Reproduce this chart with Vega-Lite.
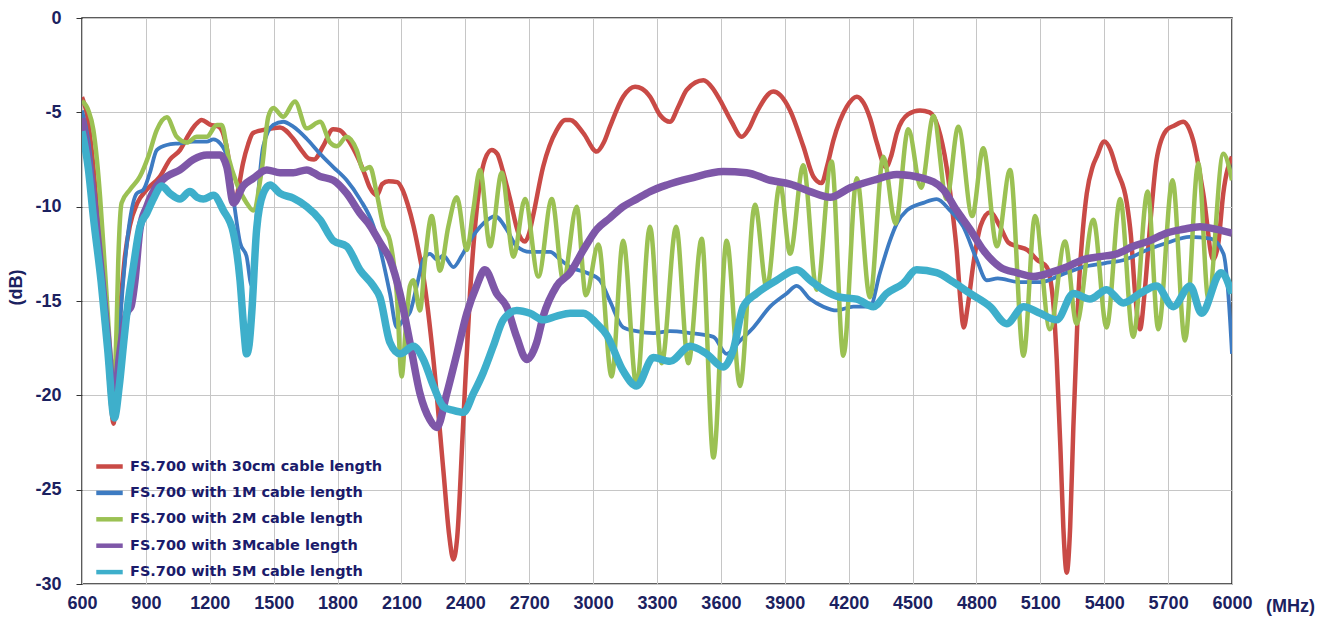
{
  "$schema": "https://vega.github.io/schema/vega-lite/v6.json",
  "width": 1150,
  "height": 566,
  "autosize": {"type": "none"},
  "padding": {"left": 82, "top": 18, "right": 102, "bottom": 38},
  "background": "white",
  "config": {
    "view": {"stroke": "#262626", "strokeWidth": 1.5},
    "axis": {
      "labelFont": "Liberation Sans", "labelFontSize": 18, "labelFontWeight": "bold", "labelColor": "#1b2160",
      "titleFont": "Liberation Sans", "titleFontSize": 18, "titleFontWeight": "bold", "titleColor": "#1b2160",
      "gridColor": "#c6c6c6", "gridWidth": 1, "domain": false
    },
    "legend": {
      "orient": "none", "legendX": 12, "legendY": 433, "padding": 0, "rowPadding": 1.4,
      "labelFont": "DejaVu Sans", "labelFontSize": 14.5, "labelFontWeight": "bold", "labelColor": "#1b1b6b",
      "labelOffset": 5, "labelLimit": 400, "symbolType": "stroke", "symbolSize": 700, "symbolStrokeWidth": 4.5
    }
  },
  "datasets": {
    "r": [{"f":600,"d":-4.2},{"f":625,"d":-5.2},{"f":650,"d":-7.5},{"f":680,"d":-11.5},{"f":710,"d":-16},{"f":735,"d":-20.3},{"f":748,"d":-21.5},{"f":762,"d":-19.5},{"f":778,"d":-15.8},{"f":800,"d":-12.8},{"f":825,"d":-11.0},{"f":860,"d":-9.8},{"f":904,"d":-9.1},{"f":966,"d":-8.4},{"f":1013,"d":-7.5},{"f":1060,"d":-7.0},{"f":1100,"d":-6.2},{"f":1130,"d":-5.7},{"f":1162,"d":-5.4},{"f":1201,"d":-5.65},{"f":1240,"d":-5.75},{"f":1265,"d":-6.2},{"f":1285,"d":-7.2},{"f":1303,"d":-9.0},{"f":1318,"d":-9.8},{"f":1335,"d":-9.0},{"f":1356,"d":-7.7},{"f":1380,"d":-6.7},{"f":1403,"d":-6.1},{"f":1467,"d":-5.9},{"f":1530,"d":-5.8},{"f":1592,"d":-6.4},{"f":1630,"d":-7.0},{"f":1665,"d":-7.45},{"f":1690,"d":-7.5},{"f":1732,"d":-6.8},{"f":1779,"d":-5.9},{"f":1810,"d":-5.95},{"f":1840,"d":-6.3},{"f":1873,"d":-6.9},{"f":1920,"d":-8.05},{"f":1952,"d":-9.0},{"f":1985,"d":-9.4},{"f":2010,"d":-8.8},{"f":2040,"d":-8.65},{"f":2080,"d":-8.7},{"f":2105,"d":-9.1},{"f":2130,"d":-9.9},{"f":2156,"d":-11.0},{"f":2180,"d":-12.3},{"f":2203,"d":-13.7},{"f":2250,"d":-18.1},{"f":2297,"d":-24.0},{"f":2325,"d":-27.5},{"f":2344,"d":-28.7},{"f":2362,"d":-27.5},{"f":2389,"d":-21.7},{"f":2422,"d":-14.6},{"f":2453,"d":-10.2},{"f":2492,"d":-7.5},{"f":2524,"d":-7.0},{"f":2550,"d":-7.2},{"f":2571,"d":-7.9},{"f":2610,"d":-9.6},{"f":2649,"d":-11.4},{"f":2680,"d":-11.85},{"f":2700,"d":-11.4},{"f":2718,"d":-10.5},{"f":2765,"d":-7.9},{"f":2829,"d":-5.94},{"f":2870,"d":-5.4},{"f":2892,"d":-5.4},{"f":2954,"d":-6.1},{"f":3017,"d":-7.08},{"f":3050,"d":-6.6},{"f":3079,"d":-5.76},{"f":3141,"d":-4.17},{"f":3197,"d":-3.64},{"f":3230,"d":-3.75},{"f":3267,"d":-4.17},{"f":3314,"d":-5.14},{"f":3361,"d":-5.5},{"f":3400,"d":-4.7},{"f":3440,"d":-3.8},{"f":3518,"d":-3.3},{"f":3560,"d":-3.7},{"f":3596,"d":-4.35},{"f":3650,"d":-5.5},{"f":3698,"d":-6.3},{"f":3730,"d":-5.9},{"f":3768,"d":-5.0},{"f":3846,"d":-3.9},{"f":3880,"d":-4.1},{"f":3925,"d":-4.9},{"f":3987,"d":-6.8},{"f":4034,"d":-8.4},{"f":4073,"d":-8.75},{"f":4100,"d":-7.8},{"f":4128,"d":-6.5},{"f":4191,"d":-4.7},{"f":4238,"d":-4.17},{"f":4270,"d":-4.5},{"f":4300,"d":-5.3},{"f":4332,"d":-6.6},{"f":4375,"d":-7.9},{"f":4400,"d":-7.3},{"f":4426,"d":-6.1},{"f":4480,"d":-5.1},{"f":4535,"d":-4.9},{"f":4580,"d":-5.0},{"f":4620,"d":-5.8},{"f":4660,"d":-7.9},{"f":4690,"d":-10.5},{"f":4707,"d":-12.3},{"f":4725,"d":-15.0},{"f":4740,"d":-16.4},{"f":4760,"d":-15.2},{"f":4786,"d":-13.0},{"f":4820,"d":-11.0},{"f":4864,"d":-10.3},{"f":4911,"d":-11.06},{"f":4950,"d":-11.9},{"f":4989,"d":-12.1},{"f":5040,"d":-12.3},{"f":5083,"d":-12.8},{"f":5130,"d":-13.2},{"f":5160,"d":-15.0},{"f":5177,"d":-18.1},{"f":5195,"d":-23.0},{"f":5208,"d":-27.0},{"f":5224,"d":-29.4},{"f":5240,"d":-27.0},{"f":5255,"d":-21.7},{"f":5279,"d":-14.6},{"f":5300,"d":-11.2},{"f":5318,"d":-9.3},{"f":5345,"d":-7.9},{"f":5365,"d":-7.35},{"f":5400,"d":-6.55},{"f":5430,"d":-7.0},{"f":5459,"d":-8.05},{"f":5506,"d":-9.8},{"f":5525,"d":-11.5},{"f":5545,"d":-14.6},{"f":5568,"d":-16.5},{"f":5590,"d":-14.5},{"f":5615,"d":-11.06},{"f":5646,"d":-7.5},{"f":5693,"d":-5.94},{"f":5730,"d":-5.7},{"f":5771,"d":-5.5},{"f":5800,"d":-5.9},{"f":5818,"d":-6.5},{"f":5865,"d":-9.3},{"f":5912,"d":-12.8},{"f":5935,"d":-12.0},{"f":5959,"d":-9.3},{"f":6000,"d":-7.35}],
    "b": [{"f":600,"d":-4.9},{"f":630,"d":-6.5},{"f":660,"d":-9.5},{"f":690,"d":-13},{"f":720,"d":-17},{"f":748,"d":-20.9},{"f":770,"d":-17.5},{"f":794,"d":-13.9},{"f":825,"d":-10.7},{"f":857,"d":-9.3},{"f":888,"d":-9.1},{"f":919,"d":-8.2},{"f":951,"d":-7.0},{"f":998,"d":-6.73},{"f":1060,"d":-6.64},{"f":1123,"d":-6.55},{"f":1186,"d":-6.55},{"f":1217,"d":-6.43},{"f":1248,"d":-6.64},{"f":1280,"d":-7.35},{"f":1311,"d":-9.6},{"f":1342,"d":-11.9},{"f":1373,"d":-12.65},{"f":1397,"d":-14.2},{"f":1420,"d":-10.35},{"f":1451,"d":-6.8},{"f":1498,"d":-5.67},{"f":1545,"d":-5.5},{"f":1592,"d":-5.76},{"f":1655,"d":-6.4},{"f":1718,"d":-7.2},{"f":1780,"d":-7.9},{"f":1843,"d":-8.6},{"f":1905,"d":-9.6},{"f":1968,"d":-11.0},{"f":1999,"d":-12.2},{"f":2046,"d":-14.6},{"f":2078,"d":-16.4},{"f":2109,"d":-16.0},{"f":2140,"d":-15.6},{"f":2172,"d":-14.2},{"f":2203,"d":-12.8},{"f":2234,"d":-12.5},{"f":2266,"d":-12.8},{"f":2297,"d":-12.6},{"f":2344,"d":-13.2},{"f":2383,"d":-12.6},{"f":2422,"d":-11.8},{"f":2484,"d":-10.9},{"f":2539,"d":-10.5},{"f":2594,"d":-11.2},{"f":2641,"d":-12.1},{"f":2704,"d":-12.4},{"f":2798,"d":-12.4},{"f":2845,"d":-12.8},{"f":2892,"d":-13.2},{"f":2970,"d":-13.5},{"f":3032,"d":-13.9},{"f":3079,"d":-15.0},{"f":3141,"d":-16.4},{"f":3204,"d":-16.6},{"f":3283,"d":-16.7},{"f":3361,"d":-16.6},{"f":3455,"d":-16.7},{"f":3565,"d":-16.9},{"f":3627,"d":-17.8},{"f":3690,"d":-17.1},{"f":3753,"d":-16.4},{"f":3831,"d":-15.3},{"f":3909,"d":-14.6},{"f":3956,"d":-14.2},{"f":4019,"d":-14.9},{"f":4081,"d":-15.3},{"f":4144,"d":-15.5},{"f":4222,"d":-15.3},{"f":4300,"d":-15.3},{"f":4347,"d":-13.5},{"f":4394,"d":-11.8},{"f":4426,"d":-10.9},{"f":4473,"d":-10.2},{"f":4551,"d":-9.8},{"f":4613,"d":-9.6},{"f":4676,"d":-10.2},{"f":4738,"d":-11.06},{"f":4801,"d":-12.8},{"f":4848,"d":-13.9},{"f":4900,"d":-13.8},{"f":5000,"d":-14.0},{"f":5100,"d":-14.0},{"f":5200,"d":-13.6},{"f":5300,"d":-13.2},{"f":5400,"d":-13.0},{"f":5500,"d":-12.8},{"f":5600,"d":-12.3},{"f":5700,"d":-11.9},{"f":5800,"d":-11.6},{"f":5900,"d":-11.7},{"f":5960,"d":-12.5},{"f":5985,"d":-15.0},{"f":6000,"d":-17.8}],
    "g": [{"f":600,"d":-4.4},{"f":630,"d":-4.9},{"f":653,"d":-5.9},{"f":670,"d":-7.5},{"f":685,"d":-9.5},{"f":700,"d":-12},{"f":716,"d":-14.8},{"f":735,"d":-18},{"f":750,"d":-19.5},{"f":762,"d":-16.5},{"f":770,"d":-13},{"f":786,"d":-9.8},{"f":825,"d":-9.1},{"f":872,"d":-8.4},{"f":911,"d":-7.35},{"f":951,"d":-5.94},{"f":998,"d":-5.26},{"f":1045,"d":-6.3},{"f":1092,"d":-6.6},{"f":1139,"d":-6.3},{"f":1186,"d":-6.3},{"f":1233,"d":-5.67},{"f":1256,"d":-5.67},{"f":1287,"d":-7.35},{"f":1326,"d":-8.75},{"f":1373,"d":-9.8},{"f":1404,"d":-10.2},{"f":1444,"d":-8.05},{"f":1475,"d":-5.23},{"f":1498,"d":-4.77},{"f":1545,"d":-5.23},{"f":1600,"d":-4.43},{"f":1655,"d":-5.85},{"f":1718,"d":-5.5},{"f":1765,"d":-6.6},{"f":1797,"d":-6.8},{"f":1843,"d":-6.3},{"f":1890,"d":-7.0},{"f":1921,"d":-8.05},{"f":1952,"d":-7.9},{"f":1984,"d":-9.3},{"f":2015,"d":-11.0},{"f":2046,"d":-11.8},{"f":2078,"d":-14.6},{"f":2101,"d":-19.0},{"f":2120,"d":-16.5},{"f":2140,"d":-14.2},{"f":2156,"d":-13.9},{"f":2187,"d":-15.5},{"f":2211,"d":-12.8},{"f":2242,"d":-10.5},{"f":2281,"d":-13.4},{"f":2320,"d":-11.06},{"f":2360,"d":-9.5},{"f":2407,"d":-12.3},{"f":2437,"d":-10.2},{"f":2469,"d":-8.05},{"f":2516,"d":-12.1},{"f":2571,"d":-8.2},{"f":2626,"d":-12.65},{"f":2680,"d":-9.6},{"f":2743,"d":-13.7},{"f":2806,"d":-9.6},{"f":2860,"d":-13.9},{"f":2923,"d":-10.0},{"f":2966,"d":-14.7},{"f":3025,"d":-12.0},{"f":3087,"d":-19.0},{"f":3141,"d":-11.8},{"f":3204,"d":-19.5},{"f":3267,"d":-11.06},{"f":3322,"d":-18.3},{"f":3390,"d":-11.06},{"f":3447,"d":-18.3},{"f":3510,"d":-11.7},{"f":3565,"d":-23.3},{"f":3627,"d":-11.8},{"f":3690,"d":-19.5},{"f":3760,"d":-9.9},{"f":3815,"d":-14.3},{"f":3878,"d":-8.8},{"f":3925,"d":-12.5},{"f":3987,"d":-7.8},{"f":4050,"d":-14.4},{"f":4120,"d":-7.6},{"f":4175,"d":-17.9},{"f":4238,"d":-8.5},{"f":4300,"d":-14.8},{"f":4363,"d":-7.35},{"f":4420,"d":-10.9},{"f":4480,"d":-5.9},{"f":4540,"d":-9.0},{"f":4598,"d":-5.2},{"f":4660,"d":-9.6},{"f":4715,"d":-5.76},{"f":4780,"d":-10.5},{"f":4832,"d":-6.9},{"f":4896,"d":-12.1},{"f":4958,"d":-8.05},{"f":5021,"d":-17.9},{"f":5075,"d":-10.5},{"f":5145,"d":-16.5},{"f":5216,"d":-11.85},{"f":5270,"d":-16.2},{"f":5349,"d":-10.7},{"f":5411,"d":-16.4},{"f":5475,"d":-9.6},{"f":5536,"d":-16.9},{"f":5604,"d":-9.2},{"f":5654,"d":-16.5},{"f":5721,"d":-8.6},{"f":5779,"d":-17.1},{"f":5842,"d":-7.7},{"f":5889,"d":-14.9},{"f":5959,"d":-7.2},{"f":6000,"d":-8.6}],
    "p": [{"f":600,"d":-5.3},{"f":630,"d":-7.5},{"f":653,"d":-9.5},{"f":690,"d":-13.5},{"f":720,"d":-17},{"f":752,"d":-20.5},{"f":775,"d":-18},{"f":794,"d":-16.5},{"f":812,"d":-15.6},{"f":830,"d":-15.3},{"f":849,"d":-13.9},{"f":872,"d":-11.2},{"f":904,"d":-10.0},{"f":951,"d":-8.9},{"f":998,"d":-8.4},{"f":1060,"d":-8.05},{"f":1123,"d":-7.5},{"f":1186,"d":-7.26},{"f":1248,"d":-7.26},{"f":1280,"d":-7.9},{"f":1311,"d":-9.8},{"f":1357,"d":-8.9},{"f":1404,"d":-8.5},{"f":1467,"d":-8.05},{"f":1530,"d":-8.2},{"f":1592,"d":-8.2},{"f":1655,"d":-8.05},{"f":1718,"d":-8.4},{"f":1780,"d":-8.6},{"f":1843,"d":-9.3},{"f":1905,"d":-10.35},{"f":1952,"d":-11.0},{"f":1999,"d":-11.9},{"f":2046,"d":-12.8},{"f":2093,"d":-14.6},{"f":2140,"d":-17.2},{"f":2187,"d":-19.9},{"f":2234,"d":-21.3},{"f":2266,"d":-21.7},{"f":2313,"d":-19.9},{"f":2360,"d":-17.8},{"f":2407,"d":-15.65},{"f":2453,"d":-14.2},{"f":2492,"d":-13.35},{"f":2547,"d":-14.6},{"f":2594,"d":-15.3},{"f":2641,"d":-16.9},{"f":2688,"d":-18.1},{"f":2735,"d":-17.2},{"f":2766,"d":-15.8},{"f":2829,"d":-14.2},{"f":2892,"d":-13.5},{"f":2954,"d":-12.3},{"f":3017,"d":-11.2},{"f":3079,"d":-10.6},{"f":3141,"d":-10.0},{"f":3204,"d":-9.6},{"f":3267,"d":-9.2},{"f":3346,"d":-8.85},{"f":3455,"d":-8.5},{"f":3611,"d":-8.14},{"f":3721,"d":-8.2},{"f":3831,"d":-8.6},{"f":3925,"d":-8.8},{"f":4019,"d":-9.2},{"f":4113,"d":-9.5},{"f":4207,"d":-9.0},{"f":4316,"d":-8.6},{"f":4426,"d":-8.3},{"f":4551,"d":-8.5},{"f":4645,"d":-9.1},{"f":4707,"d":-10.2},{"f":4770,"d":-11.2},{"f":4832,"d":-12.3},{"f":4911,"d":-13.2},{"f":4989,"d":-13.5},{"f":5068,"d":-13.7},{"f":5146,"d":-13.5},{"f":5224,"d":-13.2},{"f":5302,"d":-12.8},{"f":5380,"d":-12.65},{"f":5459,"d":-12.5},{"f":5537,"d":-12.1},{"f":5615,"d":-11.8},{"f":5693,"d":-11.4},{"f":5771,"d":-11.2},{"f":5850,"d":-11.06},{"f":5928,"d":-11.2},{"f":6000,"d":-11.4}],
    "c": [{"f":600,"d":-6.0},{"f":630,"d":-8.0},{"f":653,"d":-10.5},{"f":690,"d":-14},{"f":720,"d":-17.5},{"f":752,"d":-21.2},{"f":775,"d":-19.5},{"f":794,"d":-17.4},{"f":815,"d":-15.2},{"f":841,"d":-13.2},{"f":872,"d":-11.06},{"f":904,"d":-10.35},{"f":935,"d":-9.6},{"f":974,"d":-8.9},{"f":1013,"d":-9.3},{"f":1060,"d":-9.6},{"f":1107,"d":-9.2},{"f":1140,"d":-9.5},{"f":1170,"d":-9.6},{"f":1217,"d":-9.4},{"f":1264,"d":-10.2},{"f":1311,"d":-11.4},{"f":1342,"d":-13.9},{"f":1360,"d":-16.5},{"f":1373,"d":-17.8},{"f":1385,"d":-17.3},{"f":1397,"d":-15.65},{"f":1420,"d":-11.2},{"f":1451,"d":-9.3},{"f":1483,"d":-8.85},{"f":1530,"d":-9.3},{"f":1592,"d":-9.55},{"f":1655,"d":-10.0},{"f":1718,"d":-10.7},{"f":1780,"d":-11.8},{"f":1843,"d":-12.1},{"f":1905,"d":-13.35},{"f":1968,"d":-14.2},{"f":1999,"d":-14.8},{"f":2046,"d":-17.2},{"f":2093,"d":-17.8},{"f":2156,"d":-17.4},{"f":2203,"d":-18.1},{"f":2250,"d":-19.5},{"f":2297,"d":-20.6},{"f":2344,"d":-20.8},{"f":2391,"d":-20.9},{"f":2438,"d":-19.9},{"f":2484,"d":-18.8},{"f":2531,"d":-17.4},{"f":2578,"d":-16.0},{"f":2641,"d":-15.5},{"f":2704,"d":-15.65},{"f":2766,"d":-16.0},{"f":2829,"d":-15.8},{"f":2892,"d":-15.65},{"f":2954,"d":-15.65},{"f":3017,"d":-16.2},{"f":3064,"d":-16.8},{"f":3141,"d":-18.7},{"f":3204,"d":-19.5},{"f":3283,"d":-18.0},{"f":3361,"d":-18.2},{"f":3455,"d":-17.4},{"f":3533,"d":-17.8},{"f":3611,"d":-18.5},{"f":3658,"d":-17.6},{"f":3705,"d":-15.3},{"f":3768,"d":-14.6},{"f":3862,"d":-13.9},{"f":3956,"d":-13.35},{"f":4019,"d":-13.9},{"f":4081,"d":-14.4},{"f":4160,"d":-14.8},{"f":4238,"d":-14.9},{"f":4316,"d":-15.3},{"f":4379,"d":-14.6},{"f":4457,"d":-14.06},{"f":4519,"d":-13.35},{"f":4613,"d":-13.5},{"f":4692,"d":-14.0},{"f":4770,"d":-14.6},{"f":4864,"d":-15.3},{"f":4942,"d":-16.2},{"f":5021,"d":-15.3},{"f":5099,"d":-15.65},{"f":5177,"d":-16.0},{"f":5255,"d":-14.6},{"f":5333,"d":-14.9},{"f":5411,"d":-14.4},{"f":5490,"d":-15.1},{"f":5568,"d":-14.6},{"f":5646,"d":-14.2},{"f":5724,"d":-15.3},{"f":5803,"d":-14.2},{"f":5857,"d":-15.65},{"f":5948,"d":-13.5},{"f":6000,"d":-14.6}]
  },
  "encoding": {
    "x": {
      "field": "f", "type": "quantitative",
      "scale": {"domain": [600, 6000], "nice": false, "zero": false},
      "axis": {
        "values": [600, 900, 1200, 1500, 1800, 2100, 2400, 2700, 3000, 3300, 3600, 3900, 4200, 4500, 4800, 5100, 5400, 5700, 6000],
        "labelExpr": "'' + datum.value", "ticks": false, "labelPadding": 10, "labelFlush": false,
        "title": "(MHz)", "titleX": 1208, "titleY": 22, "titleAlign": "center", "titleBaseline": "middle"
      }
    },
    "y": {
      "field": "d", "type": "quantitative",
      "scale": {"domain": [-30, 0], "nice": false, "zero": false},
      "axis": {
        "values": [-30, -25, -20, -15, -10, -5, 0],
        "labelExpr": "'' + datum.value", "ticks": true, "tickSize": 6, "tickColor": "#333333", "labelPadding": 15, "labelFlush": false,
        "title": "(dB)", "titleX": -66, "titleY": 269, "titleAlign": "center", "titleBaseline": "middle", "titleAngle": -90
      }
    }
  },
  "layer": [
    {"data": {"name": "r"}, "mark": {"type": "line", "strokeWidth": 4.5, "interpolate": "monotone", "clip": true},
     "encoding": {"color": {"datum": "FS.700 with 30cm cable length", "type": "nominal",
       "scale": {"domain": ["FS.700 with 30cm cable length", "FS.700 with 1M cable length", "FS.700 with 2M cable length", "FS.700 with 3Mcable length", "FS.700 with 5M cable length"],
                 "range": ["#C94A46", "#3D7BC2", "#9BC153", "#7E57A8", "#3EAFCB"]},
       "legend": {"title": null}}}},
    {"data": {"name": "b"}, "mark": {"type": "line", "strokeWidth": 3.8, "interpolate": "monotone", "clip": true},
     "encoding": {"color": {"datum": "FS.700 with 1M cable length", "type": "nominal"}}},
    {"data": {"name": "g"}, "mark": {"type": "line", "strokeWidth": 4.5, "interpolate": "monotone", "clip": true},
     "encoding": {"color": {"datum": "FS.700 with 2M cable length", "type": "nominal"}}},
    {"data": {"name": "p"}, "mark": {"type": "line", "strokeWidth": 7.5, "interpolate": "monotone", "clip": true},
     "encoding": {"color": {"datum": "FS.700 with 3Mcable length", "type": "nominal"}}},
    {"data": {"name": "c"}, "mark": {"type": "line", "strokeWidth": 7.5, "interpolate": "monotone", "clip": true},
     "encoding": {"color": {"datum": "FS.700 with 5M cable length", "type": "nominal"}}}
  ]
}
